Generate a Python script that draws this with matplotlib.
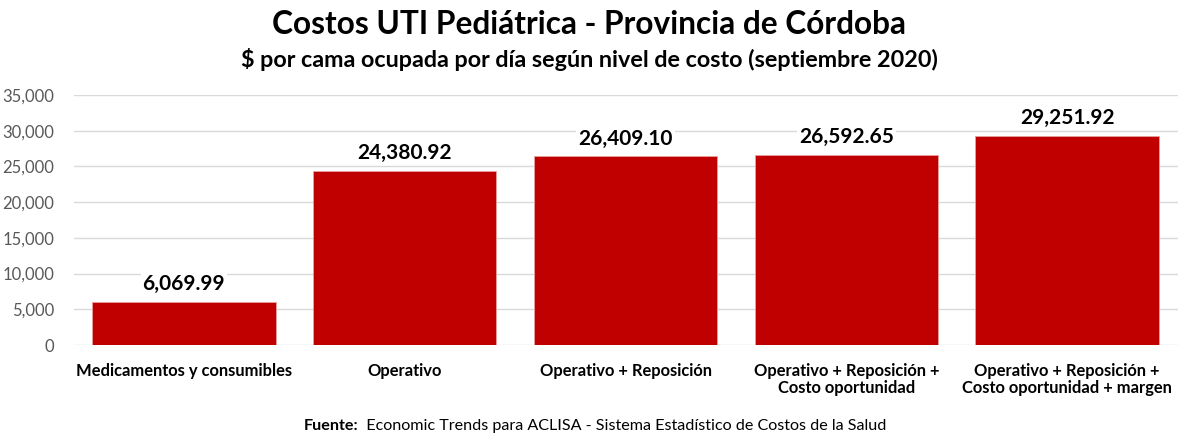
import matplotlib
matplotlib.use("Agg")
import matplotlib.pyplot as plt
from matplotlib.ticker import FuncFormatter, MultipleLocator

plt.rcParams['font.family'] = ['Lato', 'DejaVu Sans']

categories = ["Medicamentos y consumibles", "Operativo", "Operativo + Reposición",
              "Operativo + Reposición +\nCosto oportunidad",
              "Operativo + Reposición +\nCosto oportunidad + margen"]
values = [6069.99, 24380.92, 26409.10, 26592.65, 29251.92]
value_labels = ["6,069.99", "24,380.92", "26,409.10", "26,592.65", "29,251.92"]

fig = plt.figure(figsize=(11.78, 4.34), dpi=100)
ax = fig.add_axes([0.0624, 0.205, 0.9372, 0.576])

x = list(range(len(categories)))
bars = ax.bar(x, values, width=0.83, color="#C00000", edgecolor="#E8A0A0", linewidth=0.6, zorder=3)
ax.set_xlim(-0.5, len(categories) - 0.5)
ax.set_ylim(0, 35000)
ax.yaxis.set_major_locator(MultipleLocator(5000))
ax.yaxis.set_major_formatter(FuncFormatter(lambda v, p: f"{int(v):,}"))
ax.grid(axis='y', color="#D9D9D9", linewidth=1, zorder=0)
for s in ax.spines.values():
    s.set_visible(False)
ax.tick_params(axis='y', length=0, labelsize=12, labelcolor="#595959", pad=14)
ax.tick_params(axis='x', length=0, pad=13)
ax.set_xticks(x)
ax.set_xticklabels(categories, fontsize=11.9, fontweight='bold', color="#000000", linespacing=1.05)

for xi, v, lab in zip(x, values, value_labels):
    ax.text(xi, v + 1100, lab, ha='center', va='bottom', fontsize=15, fontweight='bold',
            color="#000000", zorder=4,
            bbox=dict(facecolor='white', edgecolor='none', pad=1.5))

fig.text(0.5, 0.944, "Costos UTI Pediátrica - Provincia de Córdoba", ha='center', va='center',
         fontsize=22.8, fontweight='bold', color="#000000")
fig.text(0.5, 0.862, "$ por cama ocupada por día según nivel de costo (septiembre 2020)", ha='center',
         va='center', fontsize=16.8, fontweight='bold', color="#000000")

src_y = 0.003
t1 = fig.text(0, src_y, "Fuente:", ha='left', va='bottom', fontsize=11.6, fontweight='bold')
t2 = fig.text(0, src_y, "  Economic Trends para ACLISA - Sistema Estadístico de Costos de la Salud",
              ha='left', va='bottom', fontsize=11.6)
fig.canvas.draw()
r = fig.canvas.get_renderer()
w1 = t1.get_window_extent(r).width
w2 = t2.get_window_extent(r).width
W = fig.bbox.width
start = 595 - (w1 + w2) / 2
t1.set_x(start / W)
t2.set_x((start + w1) / W)

fig.savefig("out.png", dpi=100)
